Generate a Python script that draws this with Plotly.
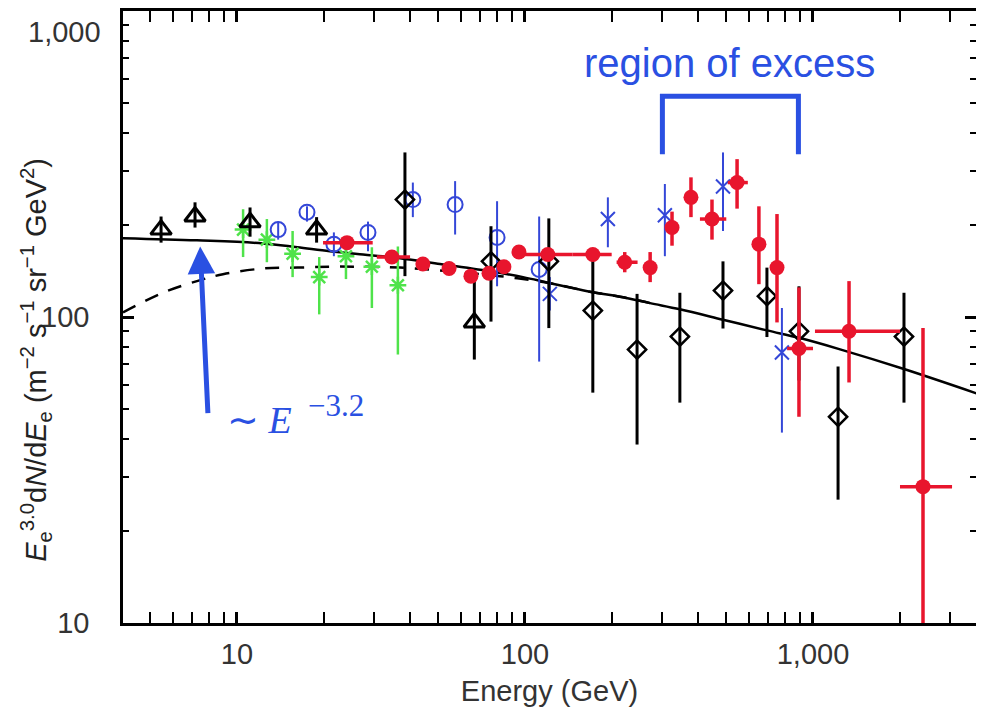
import numpy as np
import plotly.graph_objects as go

# ---------------- data ----------------
# solid model curve
sol_E = [4.02, 7.26, 12.3, 16.2, 21, 27.4, 34, 50.7, 75.5, 98.5, 122, 168, 219, 272, 345, 487, 692, 894, 1242, 2070, 3928]
sol_V = [181, 178, 174, 169, 164, 160, 157, 149, 141, 135, 129, 121, 116, 111, 106, 98, 90.4, 85.5, 78.4, 67.6, 55.2]
# dashed model curve
das_E = [4.02, 5.53, 7.26, 8.94, 12.3, 16.2, 21, 27.4, 36.8, 54.9, 81.8, 122, 168, 219, 272]
das_V = [103.5, 120, 131, 138, 144, 145, 146, 146, 145, 141, 136, 129, 121, 116, 111]

# black open triangles
tri_E = [5.45, 7.15, 11.1, 18.9, 66.7]
tri_V = [193, 213, 204, 193, 96]
tri_hi = [213, 237, 228, 212, 133]
tri_lo = [175, 196, 183, 175, 72.6]

# black open diamonds
dia_E = [38.3, 76.2, 121, 172, 245, 345, 487, 692, 894, 1222, 2070]
dia_V = [242, 152, 152, 105, 78.3, 86.3, 122, 117, 89.8, 47.2, 86.3]
dia_hi = [345, 198, 210, 158, 119, 120, 152, 145, 126, 68.9, 120]
dia_lo = [136, 96.6, 92, 56.6, 38.3, 52.5, 91.7, 86, 62, 25.3, 52.5]

# blue open circles
cir_E = [13.9, 17.5, 21.7, 28.5, 40.8, 57.2, 80, 112]
cir_V = [193, 220, 173, 189, 242, 233, 182, 143]
cir_hi = [205, 230, 189, 205, 275, 278, 239, 213]
cir_lo = [179, 205, 158, 164, 212, 186, 126, 71.5]

# blue crosses
xb_E = [122, 194, 306, 487, 780]
xb_V = [119, 209, 215, 267, 76.6]
xb_hi = [135, 246, 272, 345, 107]
xb_lo = [105, 169, 158, 191, 41.9]

# green asterisks
grn_E = [10.5, 12.7, 15.6, 19.3, 23.9, 29.4, 36.2]
grn_V = [193, 179, 161, 135, 158, 146, 127]
grn_hi = [225, 209, 191, 157, 179, 169, 170]
grn_lo = [157, 151, 135, 102, 133, 107, 75.4]

# red filled circles
red_E = [24.1, 34.5, 44.2, 54.5, 64.9, 75, 84.5, 95.3, 120, 172, 222, 272, 324, 377, 446, 545, 649, 750, 894, 1334, 2410]
red_V = [175, 157, 149, 144, 136, 139, 146, 163, 160, 160, 151, 145, 196, 246, 209, 275, 173, 145, 78.9, 89.8, 27.9]
red_hi = [181, 163, 153, 148, 140, 143, 150, 168, 165, 165, 163, 163, 221, 286, 242, 328, 230, 217, 125, 131, 92]
red_lo = [169, 151, 145, 140, 132, 135, 142, 158, 155, 155, 140, 130, 171, 212, 179, 226, 128, 96, 47.2, 61.1, 5]
red_Elo = [19.9, 30.6, 44.2, 54.5, 64.9, 75, 84.5, 95.3, 94.5, 146, 208, 272, 324, 377, 405, 506, 649, 750, 813, 1016, 2005]
red_Ehi = [29.6, 39.9, 44.2, 54.5, 64.9, 75, 84.5, 95.3, 146, 200, 246, 272, 324, 377, 500, 594, 649, 750, 1000, 2005, 3040]

# annotation geometry (data units)
bracket_E = [300, 300, 890, 890]
bracket_V = [340, 527, 527, 340]
arrow_tip = (7.45, 170)
arrow_tail = (7.93, 48)

x_tickvals = [10, 100, 1000]
x_ticktext = ["10", "100", "1,000"]
y_tickvals = [10, 100, 1000]
y_ticktext = ["10", "100", "1,000"]

# ---------------- styling ----------------
BLUE_ANN = "#2a50e2"
RED = "#e8152d"
GREEN = "#4fe34a"
BLUE = "#3447d8"
BLACK = "#000000"
SANS = "Liberation Sans, Arial, Helvetica"
SERIF = "Liberation Serif, Times New Roman, serif"

# page body adds 8px margins, so the figure is sized to fit the window exactly
FIG_W, FIG_H = 968, 699
M_L, M_R, M_T, M_B = 115, 0, 3, 84
PLOT_W = FIG_W - M_L - M_R
PX_PER_DECADE = 288.0


def err(v, hi, lo):
    v = np.array(v, float)
    return dict(type="data", symmetric=False, array=np.array(hi) - v,
                arrayminus=v - np.array(lo))


fig = go.Figure()

fig.add_trace(go.Scatter(x=sol_E, y=sol_V, mode="lines", line=dict(color=BLACK, width=2.5),
                         line_shape="spline", hoverinfo="skip", showlegend=False))
fig.add_trace(go.Scatter(x=das_E, y=das_V, mode="lines",
                         line=dict(color=BLACK, width=2.5, dash="14px,11px"),
                         line_shape="spline", hoverinfo="skip", showlegend=False))

fig.add_trace(go.Scatter(x=grn_E, y=grn_V, mode="markers",
                         marker=dict(symbol="asterisk-open", size=14, line=dict(color=GREEN, width=2.5), color=GREEN),
                         error_y=dict(**err(grn_V, grn_hi, grn_lo), color=GREEN, thickness=2.5, width=0),
                         showlegend=False))
fig.add_trace(go.Scatter(x=cir_E, y=cir_V, mode="markers",
                         marker=dict(symbol="circle-open", size=15, line=dict(color=BLUE, width=2), color=BLUE),
                         error_y=dict(**err(cir_V, cir_hi, cir_lo), color=BLUE, thickness=2, width=0),
                         showlegend=False))
fig.add_trace(go.Scatter(x=xb_E, y=xb_V, mode="markers",
                         marker=dict(symbol="x-thin-open", size=14, line=dict(color=BLUE, width=2), color=BLUE),
                         error_y=dict(**err(xb_V, xb_hi, xb_lo), color=BLUE, thickness=2, width=0),
                         showlegend=False))
fig.add_trace(go.Scatter(x=tri_E, y=tri_V, mode="markers",
                         marker=dict(symbol="triangle-up-open", size=18, line=dict(color=BLACK, width=3), color=BLACK),
                         error_y=dict(**err(tri_V, tri_hi, tri_lo), color=BLACK, thickness=3, width=0),
                         showlegend=False))
fig.add_trace(go.Scatter(x=dia_E, y=dia_V, mode="markers",
                         marker=dict(symbol="diamond-open", size=14, line=dict(color=BLACK, width=2.5), color=BLACK),
                         error_y=dict(**err(dia_V, dia_hi, dia_lo), color=BLACK, thickness=3, width=0),
                         showlegend=False))
red_Ev = np.array(red_E, float)
fig.add_trace(go.Scatter(x=red_E, y=red_V, mode="markers",
                         marker=dict(symbol="circle", size=15, color=RED),
                         error_y=dict(**err(red_V, red_hi, red_lo), color=RED, thickness=3.5, width=0),
                         error_x=dict(type="data", symmetric=False,
                                      array=np.array(red_Ehi) - red_Ev,
                                      arrayminus=red_Ev - np.array(red_Elo),
                                      color=RED, thickness=3.5, width=0),
                         showlegend=False))

# bracket for region of excess
fig.add_trace(go.Scatter(x=bracket_E, y=bracket_V, mode="lines",
                         line=dict(color=BLUE_ANN, width=5), hoverinfo="skip", showlegend=False))

# empty trace that carries the right-hand tick axis (ticks without a spine line)
fig.add_trace(go.Scatter(x=[], y=[], yaxis="y2", showlegend=False, hoverinfo="skip"))

# arrow (annotation coords on log axes are log10 values)
fig.add_annotation(x=np.log10(arrow_tip[0]), y=np.log10(arrow_tip[1]),
                   ax=np.log10(arrow_tail[0]), ay=np.log10(arrow_tail[1]),
                   xref="x", yref="y", axref="x", ayref="y", text="",
                   showarrow=True, arrowhead=2, arrowsize=1.1, arrowwidth=5, arrowcolor=BLUE_ANN)

fig.add_annotation(x=np.log10(511), y=np.log10(676), xref="x", yref="y",
                   text="region of excess", showarrow=False,
                   font=dict(family=SANS, size=40, color=BLUE_ANN))
# power-law label: "∼ E" plus its exponent, set like the math typesetting of the original
fig.add_annotation(x=np.log10(9.08), y=np.log10(46), xref="x", yref="y",
                   text="∼&nbsp;<i>E</i>", showarrow=False, xanchor="left",
                   font=dict(family=SERIF, size=38, color=BLUE_ANN))
fig.add_annotation(x=np.log10(17.4), y=np.log10(51.5), xref="x", yref="y",
                   text="−3.2", showarrow=False, xanchor="left", yanchor="middle",
                   font=dict(family=SERIF, size=31, color=BLUE_ANN))

# y-axis title as rotated annotation
fig.add_annotation(x=(36 - 123) / PLOT_W, y=0.43, xref="paper", yref="paper", textangle=-90,
                   xanchor="center", yanchor="middle",
                   text="<i>E</i><sub>e</sub><sup>3.0</sup>d<i>N</i>/d<i>E</i><sub>e</sub> "
                        "(m<sup>−2</sup> s<sup>−1</sup> sr<sup>−1</sup> GeV<sup>2</sup>)",
                   showarrow=False, font=dict(family=SANS, size=29, color="#222"))

# top y tick label sits slightly below its tick in the reference
fig.add_annotation(x=(103 - 123) / PLOT_W, y=0.9657, xref="paper", yref="paper",
                   xanchor="right", yanchor="middle",
                   text=y_ticktext[-1], showarrow=False, font=dict(family=SANS, size=29, color="#333"))

minor_x = [v * 10 ** k for k in range(0, 4) for v in range(2, 10) if 4 < v * 10 ** k < 4000]
minor_y = [v * 10 ** k for k in range(1, 3) for v in range(2, 10)]

tickfont = dict(family=SANS, size=29, color="#333")
ymin = dict(tickmode="array", tickvals=minor_y, ticks="inside", ticklen=6,
            tickwidth=2, tickcolor=BLACK, showgrid=False)

x0 = np.log10(4.02)
fig.update_layout(
    xaxis=dict(type="log", range=[x0, x0 + PLOT_W / PX_PER_DECADE],
               tickmode="array", tickvals=x_tickvals, ticktext=x_ticktext,
               showline=True, linewidth=2.5, linecolor=BLACK, mirror="allticks",
               ticks="inside", ticklen=11, tickwidth=2.5, tickcolor=BLACK,
               showgrid=False, zeroline=False, tickfont=tickfont,
               minor=dict(tickmode="array", tickvals=minor_x, ticks="inside", ticklen=6,
                          tickwidth=2, tickcolor=BLACK, showgrid=False),
               title=dict(text="Energy (GeV)", font=dict(family=SANS, size=29, color="#333"),
                          standoff=17),
               ticklabelstandoff=3),
    yaxis=dict(type="log", range=[1, 3],
               tickmode="array", tickvals=y_tickvals, ticktext=y_ticktext[:-1] + [""],
               showline=True, linewidth=2.5, linecolor=BLACK, mirror=False,
               ticks="inside", ticklen=11, tickwidth=2.5, tickcolor=BLACK,
               showgrid=False, zeroline=False, tickfont=tickfont,
               minor=ymin, ticklabelstandoff=25),
    yaxis2=dict(type="log", range=[1, 3], overlaying="y", side="right", anchor="x",
                tickmode="array", tickvals=y_tickvals, showticklabels=False,
                showline=False, ticks="inside", ticklen=11, tickwidth=2.5, tickcolor=BLACK,
                showgrid=False, zeroline=False, minor=ymin),
    width=FIG_W, height=FIG_H, margin=dict(l=M_L, r=M_R, t=M_T, b=M_B),
    plot_bgcolor="white", paper_bgcolor="white", showlegend=False)

fig.write_html("out.html")
